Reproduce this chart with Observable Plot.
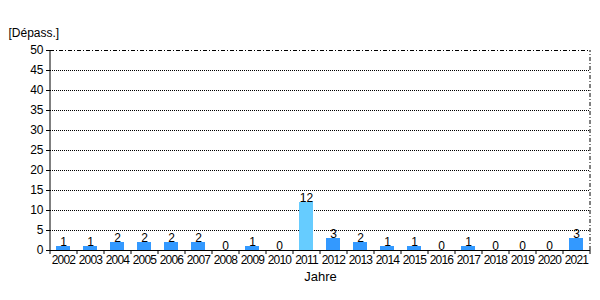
<!DOCTYPE html>
<html>
<head>
<meta charset="utf-8">
<script src="https://cdn.jsdelivr.net/npm/d3@7"></script>
<script src="https://cdn.jsdelivr.net/npm/@observablehq/plot@0.6"></script>
<style>
  body { margin: 0; background: #fff; }
  svg { display: block; }
  g[aria-label="x-axis tick label"] text { letter-spacing: -0.8px; }
</style>
</head>
<body>
<div id="chart"></div>
<script>
const years = ["2002","2003","2004","2005","2006","2007","2008","2009","2010","2011","2012","2013","2014","2015","2016","2017","2018","2019","2020","2021"];
const values = [1,1,2,2,2,2,0,1,0,12,3,2,1,1,0,1,0,0,0,3];
const highlightYear = "2011";
const yTicks = [0,5,10,15,20,25,30,35,40,45,50];
const gridTicks = [5,10,15,20,25,30,35,40,45];
const yTitle = "[Dépass.]";
const xTitle = "Jahre";

const data = years.map((y, i) => ({year: y, value: values[i]}));
const lastYear = years[years.length - 1];

const chart = Plot.plot({
  width: 600,
  height: 300,
  marginLeft: 50,
  marginRight: 10,
  marginTop: 50,
  marginBottom: 50,
  style: {fontFamily: "'Liberation Sans', Arial, sans-serif", fontSize: "12px", color: "#000", background: "#fff"},
  x: {domain: years, paddingInner: 0.48, paddingOuter: 0.24},
  y: {domain: [0, 50]},
  marks: [
    Plot.ruleY(gridTicks, {stroke: "#000", strokeDasharray: "1,1", strokeWidth: 1}),
    Plot.ruleY([50], {stroke: "#000", strokeDasharray: "4,2,1,2", strokeWidth: 1}),
    Plot.ruleX([lastYear], {dx: 13.5, y1: 0, y2: 50, stroke: "#000", strokeDasharray: "4,2,1,2"}),
    Plot.barY(data, {x: "year", y: "value", fill: d => d.year === highlightYear ? "#66CCFF" : "#3399FF"}),
    Plot.text(data, {x: "year", y: "value", text: d => String(d.value), lineAnchor: "bottom", dy: -1, fill: "#000", fontSize: 12}),
    Plot.axisY({ticks: yTicks, tickSize: 4, tickPadding: 3, label: null, fontSize: 12}),
    Plot.ruleX([years[0]], {dx: -13.5, y1: 0, y2: 50, stroke: "#000"}),
    Plot.axisX({tickSize: 0, tickPadding: 5, label: null, fontSize: 12}),
    Plot.text([xTitle], {frameAnchor: "bottom", dy: 30, lineAnchor: "bottom", fontSize: 13, fill: "#000"}),
    Plot.ruleY([0], {stroke: "#000"}),
    Plot.ruleX(years, {dx: -13.5, y1: 0, y2: -1, stroke: "#000"}),
    Plot.ruleX([lastYear], {dx: 13.5, y1: 0, y2: -1, stroke: "#000"}),
    Plot.text([yTitle], {frameAnchor: "top-left", dx: -42, dy: -22, textAnchor: "start", fontSize: 12, fill: "#000"})
  ]
});
document.getElementById("chart").appendChild(chart);
</script>
</body>
</html>
